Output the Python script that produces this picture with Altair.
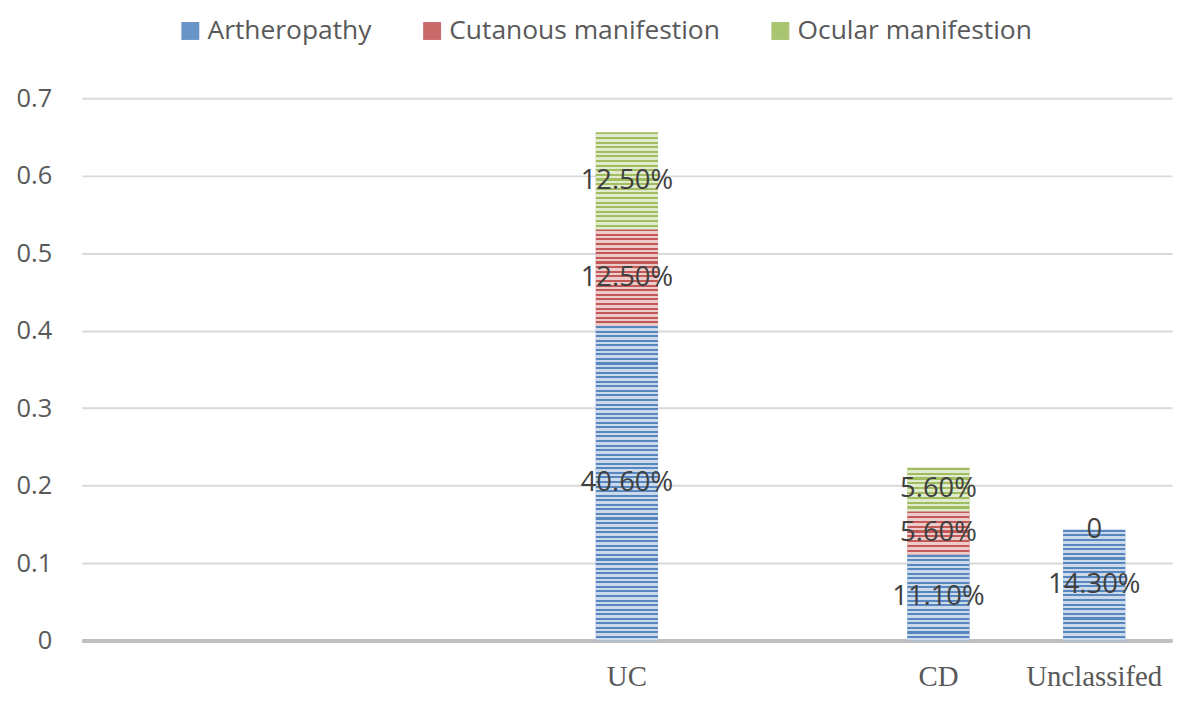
import altair as alt
import pandas as pd

# ---- data ----
groups = ["UC", "CD", "Unclassifed"]
series = ["Artheropathy", "Cutanous manifestion", "Ocular manifestion"]
artheropathy = [0.406, 0.111, 0.143]
cutanous = [0.125, 0.056, 0.0]
ocular = [0.125, 0.056, None]

# empty category slots on the x axis (as in the reference)
x_domain = ["blank1", "blank2", "blank3", "UC", "blank4", "CD", "Unclassifed"]

y_ticks = [0, 0.1, 0.2, 0.3, 0.4, 0.5, 0.6, 0.7]

dark_colors = ["#4F81BD", "#C0504D", "#9BBB59"]

rows = []
for gi, g in enumerate(groups):
    for si, (s, vals) in enumerate(zip(series, [artheropathy, cutanous, ocular])):
        v = vals[gi]
        if v is None:
            continue
        rows.append({"group": g, "series": s, "order": si, "value": v})
df = pd.DataFrame(rows)

# ---- stripe overlay (style only) ----
PLOT_W, PLOT_H = 1096, 545
px_per_unit = PLOT_H / 0.7
period = 4.6


def stripes(n):
    stops = []
    for i in range(n):
        a = i / n
        m = (i + 0.45) / n
        b = (i + 1) / n
        stops += [
            {"offset": a, "color": "rgba(255,255,255,0.05)"},
            {"offset": m, "color": "rgba(255,255,255,0.05)"},
            {"offset": m, "color": "rgba(255,255,255,0.7)"},
            {"offset": b, "color": "rgba(255,255,255,0.7)"},
        ]
    return {"gradient": "linear", "x1": 0, "y1": 0, "x2": 0, "y2": 1, "stops": stops}


conds = []
for r in rows:
    if r["value"] <= 0:
        continue
    n = max(1, round(r["value"] * px_per_unit / period))
    conds.append({
        "test": f"datum.group === '{r['group']}' && datum.series === '{r['series']}'",
        "value": stripes(n),
    })

base = alt.Chart(df).transform_stack(
    stack="value", groupby=["group"], sort=[alt.SortField("order")], as_=["y0", "y1"]
).transform_calculate(
    mid="(datum.y0 + datum.y1) / 2",
    lbl="datum.value == 0 ? '0' : format(datum.value, '.2%')",
)

x_enc = alt.X(
    "group:N",
    scale=alt.Scale(domain=x_domain, paddingInner=0.6, paddingOuter=0.3),
    axis=alt.Axis(
        title=None,
        labelExpr="indexof(datum.label, 'blank') === 0 ? '' : datum.label",
        labelFont="Liberation Serif",
        labelFontSize=29,
        labelColor="#595959",
        labelAngle=0,
        labelPadding=22,
        labelLimit=0,
        ticks=False,
        domainColor="#BFBFBF",
        domainWidth=4,
        grid=False,
    ),
)

y_enc = alt.Y(
    "y0:Q",
    scale=alt.Scale(domain=[0, 0.7], nice=False),
    axis=alt.Axis(
        title=None,
        values=y_ticks,
        labelExpr="datum.value == 0 ? '0' : format(datum.value, '.1f')",
        labelFont="Open Sans",
        labelFontSize=25.5,
        labelColor="#595959",
        labelPadding=30,
        ticks=False,
        domain=False,
        gridColor="#D9D9D9",
        gridWidth=2,
    ),
)

bars = base.mark_bar().encode(
    x=x_enc,
    y=y_enc,
    y2="y1:Q",
    color=alt.Color(
        "series:N",
        scale=alt.Scale(domain=series, range=dark_colors),
        legend=alt.Legend(
            title=None,
            orient="none",
            direction="horizontal",
            legendX=96,
            legendY=-81,
            symbolType="square",
            symbolSize=324,
            symbolStrokeWidth=0,
            symbolOpacity=0.85,
            labelFont="Open Sans",
            labelFontSize=26.5,
            labelColor="#595959",
            labelLimit=0,
            columnPadding=47,
            labelOffset=4,
            padding=0,
        ),
    ),
)

overlay = base.mark_bar().encode(
    x=alt.X("group:N"),
    y=alt.Y("y0:Q"),
    y2="y1:Q",
    fill={"condition": conds, "value": "rgba(255,255,255,0)"},
)

labels = base.mark_text(
    font="Open Sans", fontSize=27.5, color="#404040", baseline="middle", align="center"
).encode(
    x=alt.X("group:N"),
    y=alt.Y("mid:Q"),
    text="lbl:N",
)

chart = alt.layer(bars, overlay, labels).properties(
    width=PLOT_W,
    height=PLOT_H,
    autosize="none",
    background="white",
    padding={"left": 74, "top": 89, "right": 20, "bottom": 50},
).configure_view(stroke=None)

chart.save("out.html", embed_options={"renderer": "svg", "actions": False})
